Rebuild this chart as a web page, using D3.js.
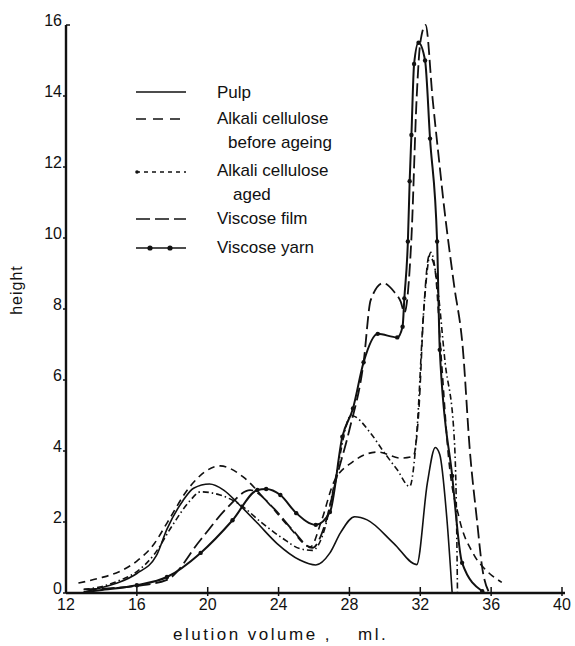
<!DOCTYPE html>
<html>
<head>
<meta charset="UTF-8">
<title></title>
<script src="https://cdn.jsdelivr.net/npm/d3@7"></script>
<style>
  body { margin: 0; background: #fff; }
  text { font-family: "Liberation Sans", Arial, sans-serif; fill: #111; }
</style>
</head>
<body>
<svg id="chart" width="575" height="646"></svg>
<script>
// ticks
var xTicks = [12, 16, 20, 24, 28, 32, 36, 40];
var yTicks = [0, 2, 4, 6, 8, 10, 12, 14, 16];

// series (elution volume ml, height)
var pulpX = [13, 14, 15, 16, 17.1, 17.7, 18.6, 19.2, 20.1, 20.9, 21.8, 22.8, 23.9, 25.2, 26.1, 26.9, 27.5, 28.3, 29.0, 30.5, 31.8, 32.4, 32.85, 33.1, 33.5, 33.8];
var pulpY = [0.03, 0.15, 0.3, 0.55, 1.05, 1.8, 2.6, 2.95, 3.07, 2.9, 2.48, 1.97, 1.4, 0.93, 0.79, 1.13, 1.7, 2.15, 2.06, 1.4, 0.8, 3.1, 4.1, 3.9, 2.1, 0];

var beforeX = [12.7, 13.9, 15, 16, 17, 17.7, 19, 20.7, 22, 23.3, 24.6, 25.8, 26.4, 27.1, 28.2, 29.6, 30.9, 31.6, 31.9, 32.2, 32.5, 32.8, 33.2, 33.6, 34.2, 35.0, 35.8, 36.6];
var beforeY = [0.28, 0.42, 0.6, 0.9, 1.4, 1.97, 3.0, 3.58, 3.27, 2.6, 1.86, 1.3, 2.0, 3.1, 3.7, 3.97, 3.8, 3.85, 5, 8, 9.5, 9.2, 6.5, 3.8, 2.1, 1.1, 0.6, 0.3];

var agedX = [13, 13.9, 15, 16, 17, 18, 19, 19.6, 20.7, 21.8, 23, 24.2, 25.2, 25.9, 26.6, 27.2, 28.1, 29.2, 29.9, 30.7, 31.4, 31.8, 32.2, 32.6, 33.0, 33.4, 33.9, 34.05, 34.1];
var agedY = [0.1, 0.17, 0.35, 0.6, 1.1, 1.9, 2.6, 2.85, 2.76, 2.5, 2.0, 1.55, 1.25, 1.2, 1.8, 3.2, 5.0, 4.5, 4.0, 3.47, 3.0, 4.5, 8, 9.6, 8.5, 6.5, 4.5, 2, 0];

var filmX = [13, 14, 16, 17.7, 19.6, 21.1, 22.4, 23.7, 24.8, 25.9, 26.6, 27.3, 28.0, 28.8, 29.2, 29.9, 30.5, 30.9, 31.1, 31.5, 31.8, 32.0, 32.3, 32.7, 33.1, 33.3, 33.9, 34.4, 34.8, 35.2, 35.5, 35.9];
var filmY = [0.1, 0.12, 0.2, 0.37, 1.5, 2.4, 2.9, 2.4, 1.77, 1.27, 1.9, 3.3, 4.6, 6.5, 8.25, 8.73, 8.5, 8.2, 7.9, 10, 14, 15.5, 16.0, 13.9, 12.0, 11.07, 8.7, 6.9, 4.0, 2.05, 0.7, 0];

var yarnX = [13, 13.9, 16, 17.7, 19.6, 21.4, 22.8, 23.3, 24.1, 25, 26.1, 26.9, 27.6, 28.2, 28.8, 29.6, 30.7, 31.0, 31.1, 31.3, 31.4, 31.5, 31.65, 31.9, 32.27, 32.55, 32.95, 33.1, 33.8, 34.36, 35.5];
var yarnY = [0.02, 0.08, 0.22, 0.45, 1.13, 2.05, 2.9, 2.93, 2.76, 2.25, 1.92, 2.28, 4.4, 5.2, 6.5, 7.3, 7.2, 7.5, 8.3, 9.9, 11.6, 12.9, 14.9, 15.5, 15.0, 12.8, 9.9, 6.85, 3.3, 0.85, 0.05];

var seriesNames = ["Pulp", "Alkali cellulose|before ageing", "Alkali cellulose|aged", "Viscose film", "Viscose yarn"];

var svg = d3.select('#chart');

var x = d3.scaleLinear().domain([12, 40]).range([66, 562]);
var y = d3.scaleLinear().domain([0, 16]).range([593, 25]);

function pts(xs, ys) { return xs.map(function(v, i){ return [v, ys[i]]; }); }

var series = [
  {name: seriesNames[0], data: pts(pulpX, pulpY), dash: null, width: 1.6},
  {name: seriesNames[1], data: pts(beforeX, beforeY), dash: '7,5', width: 1.6},
  {name: seriesNames[2], data: pts(agedX, agedY), dash: '6,3,1.5,3', width: 1.6},
  {name: seriesNames[3], data: pts(filmX, filmY), dash: '13,5', width: 1.8},
  {name: seriesNames[4], data: pts(yarnX, yarnY), dash: null, width: 2, dots: true}
];

// axes
svg.append('line').attr('x1', x(12)).attr('x2', x(12)).attr('y1', y(0)).attr('y2', y(16))
   .attr('stroke', '#111').attr('stroke-width', 2.4);
svg.append('line').attr('x1', x(12)).attr('x2', x(40) + 3).attr('y1', y(0)).attr('y2', y(0))
   .attr('stroke', '#111').attr('stroke-width', 2.4);

svg.selectAll('.ytick').data(yTicks).enter().append('line')
   .attr('x1', function(d){ return d == 16 ? x(12) + 4 : x(12) - 3; })
   .attr('x2', x(12))
   .attr('y1', function(d){ return y(d); }).attr('y2', function(d){ return y(d); })
   .attr('stroke', '#111').attr('stroke-width', 1.5);
svg.selectAll('.ylab').data(yTicks).enter().append('text')
   .attr('x', 62).attr('y', function(d){ return y(d) + 1; })
   .attr('text-anchor', 'end').attr('font-size', 16)
   .text(function(d){ return d; });

svg.selectAll('.xtick').data(xTicks.slice(1)).enter().append('line')
   .attr('x1', function(d){ return x(d); }).attr('x2', function(d){ return x(d); })
   .attr('y1', y(0) - 6).attr('y2', y(0) + 3)
   .attr('stroke', '#111').attr('stroke-width', 1.5);
svg.selectAll('.xlab').data(xTicks).enter().append('text')
   .attr('x', function(d){ return x(d); }).attr('y', 610)
   .attr('text-anchor', 'middle').attr('font-size', 16)
   .text(function(d){ return d; });

svg.append('text').attr('x', 173).attr('y', 640).attr('font-size', 17)
   .attr('letter-spacing', 2.5).text('elution volume ,');
svg.append('text').attr('x', 358).attr('y', 640).attr('font-size', 17)
   .attr('letter-spacing', 2.5).text('ml.');
svg.append('text').attr('transform', 'translate(22,290) rotate(-90)')
   .attr('text-anchor', 'middle').attr('font-size', 16).attr('letter-spacing', 1)
   .text('height');

// curves
var line = d3.line().x(function(d){ return x(d[0]); }).y(function(d){ return y(d[1]); })
   .curve(d3.curveMonotoneX);

series.forEach(function(s){
  svg.append('path').datum(s.data).attr('d', line)
     .attr('fill', 'none').attr('stroke', '#111').attr('stroke-width', s.width)
     .attr('stroke-dasharray', s.dash).attr('stroke-linejoin', 'round');
  if (s.dots) {
    svg.selectAll(null).data(s.data.slice(2)).enter().append('circle')
       .attr('cx', function(d){ return x(d[0]); }).attr('cy', function(d){ return y(d[1]); })
       .attr('r', 2.2).attr('fill', '#111');
  }
});

// legend
var legY = [92, 119, 172, 219, 248];
var legText = [[98], [124, 148], [176, 200], [224], [253]];
series.forEach(function(s, i){
  var g = svg.append('g');
  g.append('line').attr('x1', 136).attr('x2', 186).attr('y1', legY[i]).attr('y2', legY[i])
   .attr('stroke', '#111').attr('stroke-width', 1.5)
   .attr('stroke-dasharray', i == 1 ? '10,7' : i == 2 ? '4,4' : i == 3 ? '14,5' : null);
  if (i == 2) g.append('circle').attr('cx', 137).attr('cy', legY[i]).attr('r', 1.8).attr('fill', '#111');
  if (i == 4) {
    [150, 170].forEach(function(cx){
      g.append('circle').attr('cx', cx).attr('cy', legY[i]).attr('r', 2.6).attr('fill', '#111');
    });
  }
  s.name.split('|').forEach(function(t, j){
    g.append('text').attr('x', 217 + (j ? (i == 1 ? 11 : 16) : 0)).attr('y', legText[i][j])
     .attr('font-size', 17).text(t);
  });
});
</script>
</body>
</html>
